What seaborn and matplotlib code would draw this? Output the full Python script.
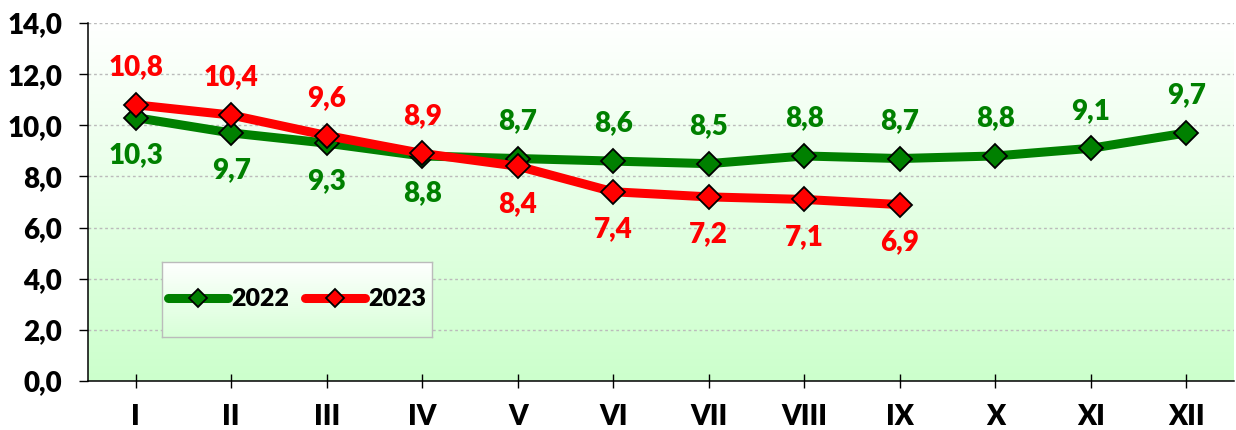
import numpy as np
import pandas as pd
import matplotlib
matplotlib.use("Agg")
import matplotlib.pyplot as plt
from matplotlib.colors import LinearSegmentedColormap
import seaborn as sns

months = ["I", "II", "III", "IV", "V", "VI", "VII", "VIII", "IX", "X", "XI", "XII"]
values_2022 = [10.3, 9.7, 9.3, 8.8, 8.7, 8.6, 8.5, 8.8, 8.7, 8.8, 9.1, 9.7]
values_2023 = [10.8, 10.4, 9.6, 8.9, 8.4, 7.4, 7.2, 7.1, 6.9]
yticks = [0, 2, 4, 6, 8, 10, 12, 14]

# label placement: +1 above, -1 below
side_2022 = [-1, -1, -1, -1, 1, 1, 1, 1, 1, 1, 1, 1]
side_2023 = [1, 1, 1, 1, -1, -1, -1, -1, -1]

GREEN = "#008000"
RED = "#FF0000"
FONT = "Lato"
WEIGHT = "heavy"

sns.set_theme(style="white")
plt.rcParams["font.family"] = [FONT, "DejaVu Sans"]
plt.rcParams["font.weight"] = WEIGHT
plt.rcParams["text.color"] = "black"

fig = plt.figure(figsize=(12.36, 4.30), dpi=100)
ax = fig.add_axes([88 / 1236, 49 / 430, 1146 / 1236, 358 / 430])

# gradient background
cmap = LinearSegmentedColormap.from_list("bg", ["#CCFFCC", "#FFFFFF"])
grad = np.linspace(0, 1, 256).reshape(-1, 1)
ax.imshow(grad, extent=[-0.5, 11.5, 0, 14], aspect="auto", cmap=cmap,
          origin="lower", zorder=0, interpolation="bicubic")

df22 = pd.DataFrame({"x": np.arange(len(values_2022)), "y": values_2022})
df23 = pd.DataFrame({"x": np.arange(len(values_2023)), "y": values_2023})

sns.lineplot(data=df22, x="x", y="y", ax=ax, color=GREEN, linewidth=6.5,
             marker="D", markersize=12, markerfacecolor=GREEN,
             markeredgecolor="black", markeredgewidth=1.3, label="2022", zorder=3,
             legend=False)
sns.lineplot(data=df23, x="x", y="y", ax=ax, color=RED, linewidth=6.5,
             marker="D", markersize=12, markerfacecolor=RED,
             markeredgecolor="black", markeredgewidth=1.3, label="2023", zorder=4,
             legend=False)

def fmt(v):
    return f"{v:.1f}".replace(".", ",")

for i, (v, s) in enumerate(zip(values_2022, side_2022)):
    ax.annotate(fmt(v), (i, v), xytext=(0, 27 * s), textcoords="offset points",
                ha="center", va="center", color=GREEN, fontsize=20,
                fontweight=WEIGHT, zorder=6)
for i, (v, s) in enumerate(zip(values_2023, side_2023)):
    ax.annotate(fmt(v), (i, v), xytext=(0, 27 * s), textcoords="offset points",
                ha="center", va="center", color=RED, fontsize=20,
                fontweight=WEIGHT, zorder=6)

ax.set_xlim(-0.5, 11.5)
ax.set_ylim(0, 14)
ax.set_xticks(range(len(months)))
ax.set_xticklabels(months)
ax.set_yticks(yticks)
ax.set_yticklabels([fmt(t) for t in yticks])
ax.set_xlabel("")
ax.set_ylabel("")

for lab in ax.get_xticklabels() + ax.get_yticklabels():
    lab.set_fontsize(20)
    lab.set_fontweight(WEIGHT)
    lab.set_color("black")

ax.tick_params(axis="y", direction="out", length=6.5, width=1, color="black",
               pad=12, left=True)
ax.tick_params(axis="x", direction="inout", length=9.5, width=1, color="black",
               pad=12, bottom=True)

ax.grid(False)
for y in yticks[1:]:
    ax.axhline(y, color="#BBBBBB", linewidth=1, linestyle=(0, (2, 2)), zorder=1)

for sp in ["top", "right"]:
    ax.spines[sp].set_visible(False)
for sp in ["left", "bottom"]:
    ax.spines[sp].set_color("black")
    ax.spines[sp].set_linewidth(1.1)
    ax.spines[sp].set_zorder(5)

# legend box with gradient
x0, y0 = (162 - 88) / 1146, (381 - 337) / 358
w, h = (432 - 162) / 1146, (337 - 262) / 358
lax = ax.inset_axes([x0, y0, w, h])
lax.set_zorder(7)
lcmap = LinearSegmentedColormap.from_list("lg", ["#D8FFD8", "#FFFFFF"])
lax.imshow(grad, aspect="auto", cmap=lcmap, origin="lower", extent=[0, 1, 0, 1])
lax.set_xticks([])
lax.set_yticks([])
for sp in lax.spines.values():
    sp.set_color("#BBBBBB")
    sp.set_linewidth(1)

handles = ax.get_lines()[:2]
leg = ax.legend(handles=handles, labels=["2022", "2023"], loc="center",
                bbox_to_anchor=(x0 + w / 2, y0 + h / 2), ncol=2, frameon=False,
                handlelength=2.4, handletextpad=0.15, columnspacing=0.6,
                prop={"family": FONT, "weight": WEIGHT, "size": 18},
                markerscale=0.75)
for t in leg.get_texts():
    t.set_color("black")
leg.set_zorder(8)

fig.savefig("out.png", dpi=100)
